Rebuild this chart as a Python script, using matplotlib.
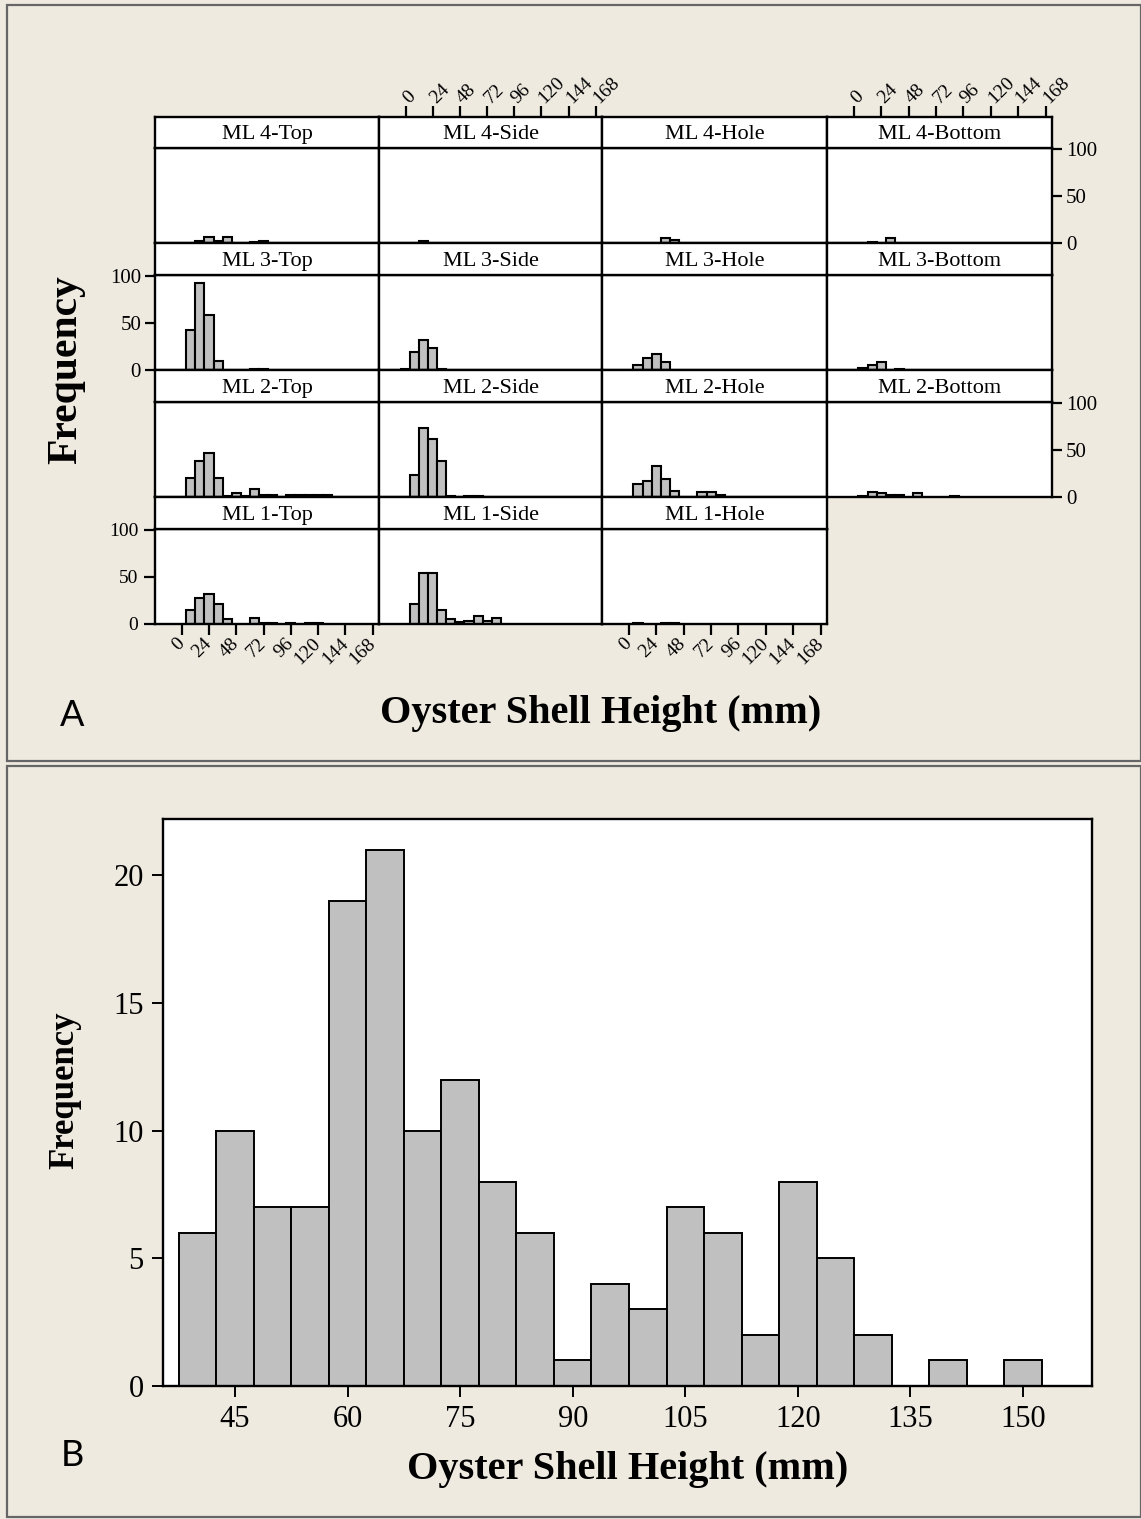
import numpy as np
import matplotlib.pyplot as plt
from matplotlib.patches import Rectangle

plt.rcParams['font.family'] = ['Liberation Serif', 'DejaVu Serif']

W, H = 1141, 1519
bg = '#eeeae0'
barcol = '#c0c0c0'

# bin midpoints (mm) for the location histograms
centers_a = np.arange(0, 176, 8)
xticks_a = [0, 24, 48, 72, 96, 120, 144, 168]

def counts(pairs):
    c = np.zeros(len(centers_a))
    for mid, n in pairs.items():
        c[mid // 8] = n
    return c

ml4_top = counts({16: 2, 24: 6, 32: 2, 40: 6, 64: 1, 72: 2})
ml4_side = counts({16: 2})
ml4_hole = counts({32: 5, 40: 3})
ml4_bottom = counts({16: 1, 32: 5})
ml3_top = counts({8: 42, 16: 92, 24: 58, 32: 10, 64: 1, 72: 1})
ml3_side = counts({0: 1, 8: 19, 16: 32, 24: 23, 32: 1})
ml3_hole = counts({8: 5, 16: 13, 24: 17, 32: 8})
ml3_bottom = counts({8: 2, 16: 5, 24: 9, 40: 1})
ml2_top = counts({8: 20, 16: 38, 24: 47, 32: 20, 40: 1, 48: 4, 56: 1, 64: 9, 72: 2,
                  80: 2, 96: 2, 104: 2, 112: 2, 120: 2, 128: 2})
ml2_side = counts({8: 23, 16: 73, 24: 62, 32: 38, 40: 1, 56: 1, 64: 1})
ml2_hole = counts({8: 14, 16: 17, 24: 33, 32: 19, 40: 6, 64: 5, 72: 5, 80: 2})
ml2_bottom = counts({8: 1, 16: 5, 24: 4, 32: 2, 40: 2, 56: 4, 88: 1})
ml1_top = counts({8: 15, 16: 28, 24: 32, 32: 21, 40: 5, 64: 6, 72: 1, 80: 1,
                  96: 1, 112: 1, 120: 1})
ml1_side = counts({8: 21, 16: 54, 24: 54, 32: 15, 40: 5, 48: 2, 56: 3, 64: 9, 72: 3, 80: 6})
ml1_hole = counts({8: 1, 32: 1, 40: 1})

# pooled histogram
centers_b = np.arange(40, 160, 5)
freq_b = [6, 10, 7, 7, 19, 21, 10, 12, 8, 6, 1, 4, 3, 7, 6, 2, 8, 5, 2, 0, 1, 0, 1, 0]

fig = plt.figure(figsize=(W / 100, H / 100), dpi=100)
fig.patch.set_facecolor(bg)

def px_axes(x0, y0, x1, y1):
    return fig.add_axes([x0 / W, 1 - y1 / H, (x1 - x0) / W, (y1 - y0) / H])

# panel frames
for y0, y1 in [(5, 761), (766, 1517)]:
    fig.patches.append(Rectangle((7 / W, 1 - y1 / H), (1141 - 7) / W, (y1 - y0) / H,
                                 transform=fig.transFigure, fill=False,
                                 edgecolor='#666666', linewidth=1.6))

cols = [155, 379, 602, 827, 1052]
rows = [(117, 148, 243), (243, 275, 370), (370, 402, 497), (497, 529, 624)]
grid = [
    [('ML 4-Top', ml4_top), ('ML 4-Side', ml4_side), ('ML 4-Hole', ml4_hole), ('ML 4-Bottom', ml4_bottom)],
    [('ML 3-Top', ml3_top), ('ML 3-Side', ml3_side), ('ML 3-Hole', ml3_hole), ('ML 3-Bottom', ml3_bottom)],
    [('ML 2-Top', ml2_top), ('ML 2-Side', ml2_side), ('ML 2-Hole', ml2_hole), ('ML 2-Bottom', ml2_bottom)],
    [('ML 1-Top', ml1_top), ('ML 1-Side', ml1_side), ('ML 1-Hole', ml1_hole)],
]
xlim_a = (-23.5, 173.5)

for r, row in enumerate(grid):
    st, pt, pb = rows[r]
    for c, (name, cnt) in enumerate(row):
        x0, x1 = cols[c], cols[c + 1]
        ax = px_axes(x0, pt, x1, pb)
        keep = cnt > 0
        ax.bar(centers_a[keep], cnt[keep], width=8, color=barcol,
               edgecolor='black', linewidth=1.5)
        ax.set_xlim(*xlim_a)
        ax.set_ylim(0, 101)
        ax.set_facecolor('white')
        for sp in ax.spines.values():
            sp.set_linewidth(1.7)
        ax.tick_params(left=False, bottom=False, labelleft=False, labelbottom=False)

        sx = px_axes(x0, st, x1, pt)
        sx.set_xlim(*xlim_a)
        sx.set_facecolor('white')
        for sp in sx.spines.values():
            sp.set_linewidth(1.7)
        sx.tick_params(left=False, bottom=False, labelleft=False, labelbottom=False)
        sx.text(0.5, 0.42, name, transform=sx.transAxes, ha='center', va='center',
                fontsize=16)

        # y scale alternates between left and right edges
        if c == 0 and r in (1, 3):
            ax.set_yticks([0, 50, 100])
            ax.tick_params(left=True, labelleft=True, direction='out', length=7,
                           width=1.6, labelsize=15, pad=3)
        if c == 3 and r in (0, 2):
            ax.yaxis.tick_right()
            ax.set_yticks([0, 50, 100])
            ax.tick_params(right=True, labelright=True, direction='out', length=7,
                           width=1.6, labelsize=15, pad=3)
        # x scale alternates between bottom and top edges
        if r == 3 and c in (0, 2):
            ax.set_xticks(xticks_a)
            ax.set_xticklabels([str(t) for t in xticks_a], rotation=45,
                               ha='right', va='center', rotation_mode='anchor')
            ax.tick_params(bottom=True, labelbottom=True, direction='out', length=8,
                           width=1.6, labelsize=14, pad=4)
        if r == 0 and c in (1, 3):
            sx.xaxis.tick_top()
            sx.set_xticks(xticks_a)
            sx.set_xticklabels([str(t) for t in xticks_a], rotation=45,
                               ha='left', va='center', rotation_mode='anchor')
            sx.tick_params(top=True, labeltop=True, direction='out', length=8,
                           width=1.6, labelsize=14, pad=4)

fig.text(66 / W, 1 - 370 / H, 'Frequency', rotation=90, ha='center', va='center',
         fontsize=30, fontweight='bold')
fig.text(601 / W, 1 - 713 / H, 'Oyster Shell Height (mm)', ha='center', va='center',
         fontsize=29, fontweight='bold')
fig.text(72 / W, 1 - 715 / H, 'A', ha='center', va='center', fontsize=26,
         family='Lato')

# panel B
axb = px_axes(163, 819, 1092, 1386)
axb.bar(centers_b, freq_b, width=5, color=barcol, edgecolor='black', linewidth=1.4)
axb.set_xlim(35.4, 159.2)
axb.set_ylim(0, 22.2)
axb.set_facecolor('white')
for sp in axb.spines.values():
    sp.set_linewidth(1.7)
axb.set_xticks([45, 60, 75, 90, 105, 120, 135, 150])
axb.set_yticks([0, 5, 10, 15, 20])
axb.tick_params(direction='out', length=8, width=1.4, labelsize=22, pad=6)

fig.text(65 / W, 1 - 1090 / H, 'Frequency', rotation=90, ha='center', va='center',
         fontsize=25, fontweight='bold')
fig.text(628 / W, 1 - 1470 / H, 'Oyster Shell Height (mm)', ha='center', va='center',
         fontsize=29, fontweight='bold')
fig.text(72 / W, 1 - 1455 / H, 'B', ha='center', va='center', fontsize=26,
         family='Lato')

fig.savefig('out.png', dpi=100, facecolor=bg)
